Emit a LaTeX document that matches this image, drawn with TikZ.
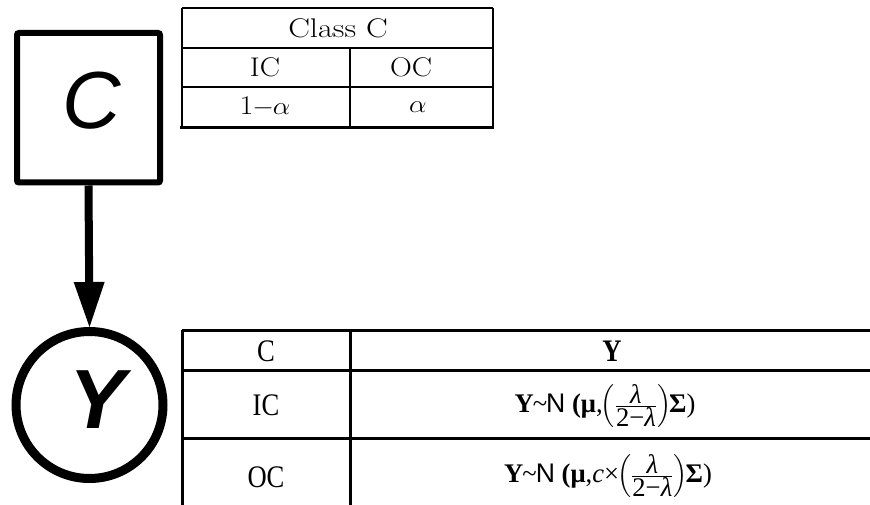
\documentclass[tikz,border=0pt]{standalone}
\usepackage{fontspec}
\usepackage{amsmath}
\usetikzlibrary{arrows.meta}
\newfontfamily\tnr{Liberation Serif}
\newfontfamily\ars{Liberation Sans}
\newcommand{\lamfrac}{$\left(\frac{\mbox{\itshape λ}}{\mbox{2−\itshape λ}}\right)$}
\newcommand{\tallbox}[1]{\scalebox{0.95}[1.12]{#1}}
\newcommand{\frmbox}[1]{\scalebox{0.95}[0.96]{#1}}
\newcommand{\widebox}[1]{\scalebox{1.12}[1]{#1}}
\tikzset{
  thickrule/.style={line width=3pt},
  thinrule/.style={line width=2.5pt},
  toptxt/.style={inner sep=0pt, font=\fontsize{27}{30}\selectfont},
  bottxt/.style={inner sep=0pt, font=\tnr\fontsize{28}{32}\selectfont},
  bignode/.style={draw, line width=6pt, rounded corners=2pt, minimum width=143pt, minimum height=149.5pt, inner sep=0pt},
  ovalnode/.style={draw, circle, line width=9pt, minimum size=147pt, inner sep=0pt},
}
\begin{document}
\begin{tikzpicture}[x=1pt,y=-1pt]
\useasboundingbox (0,0) rectangle (870,505);
% graph nodes
\node[bignode] (C) at (88.5,107.75) {};
\node[inner sep=0pt, font=\ars\itshape\fontsize{81}{90}\selectfont] (Clab) at (92,101) {C};
\node[ovalnode] (Y) at (89.5,405) {};
\node[inner sep=0pt, font=\ars\bfseries\itshape\fontsize{84}{90}\selectfont] (Ylab) at (98,400) {Y};
\draw[line width=8pt, -{Triangle[width=31pt,length=45pt,line width=0pt]}] (C.south) -- (Y.north);
% top table
\draw[thinrule] (182,8) -- (493,8);
\draw[thinrule] (182,48) -- (493,48);
\draw[thinrule] (182,87) -- (493,87);
\draw[thickrule] (180,128) -- (494,128);
\draw[thinrule] (182,8) -- (182,128);
\draw[thinrule] (493,8) -- (493,128);
\draw[thinrule] (350,48) -- (350,128);
\node[toptxt] (classC) at (338,28) {\scalebox{1.2}[1]{Class C}};
\node[toptxt] (tIC) at (265,67) {\widebox{IC}};
\node[toptxt] (tOC) at (411,67) {\widebox{OC}};
\node[toptxt] (tIa) at (265,107) {\widebox{1\kern-1pt$-$\kern-1pt$\alpha$}};
\node[toptxt] (tOa) at (418,107) {\widebox{$\alpha$}};
% bottom table
\draw[thickrule] (182,330) -- (870,330);
\draw[thickrule] (182,370) -- (870,370);
\draw[thickrule] (182,438) -- (870,438);
\draw[thickrule] (182,330) -- (182,505);
\draw[thickrule] (350,330) -- (350,505);
\node[bottxt] (bC) at (266,351) {\tallbox{C}};
\node[bottxt] (bY) at (612,351) {\tallbox{\bfseries Y}};
\node[bottxt] (bIC) at (266,405) {\tallbox{IC}};
\node[bottxt] (bOC) at (266,477) {\tallbox{OC}};
\node[bottxt] (fIC) at (605,406) {\frmbox{{\bfseries Y}\kern-1pt\textasciitilde\kern-1pt{\ars N} {\bfseries (μ},\kern-2pt\lamfrac\kern-2pt{\bfseries Σ})}};
\node[bottxt] (fOC) at (608,476) {\frmbox{{\bfseries Y}\kern-1pt\textasciitilde\kern-1pt{\ars N} {\bfseries (μ},{\itshape c}×\kern-2pt\lamfrac\kern-2pt{\bfseries Σ})}};
\end{tikzpicture}
\end{document}
